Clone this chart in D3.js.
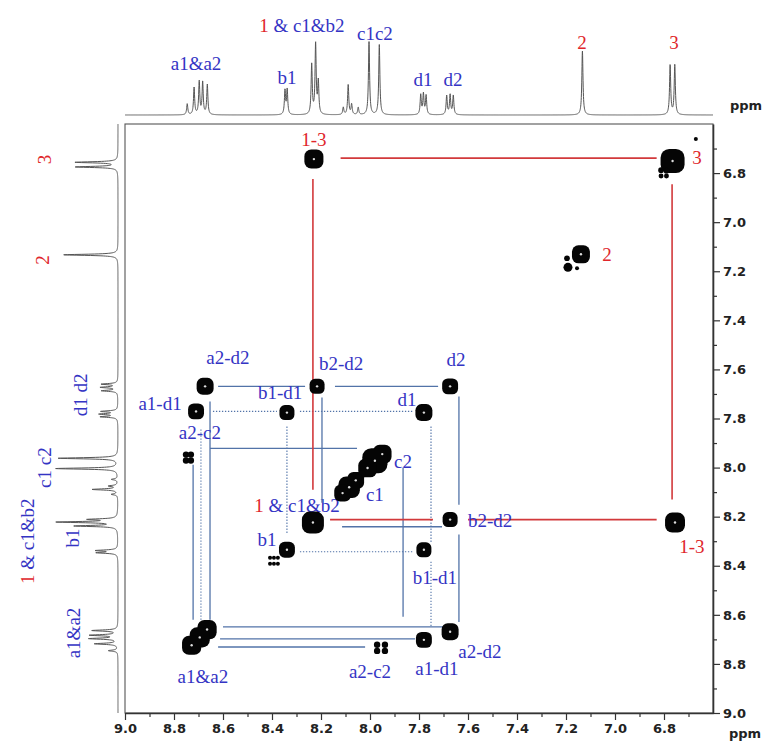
<!DOCTYPE html>
<html>
<head>
<meta charset="utf-8">
<script src="https://cdn.jsdelivr.net/npm/d3@7"></script>
<style>
  body { margin: 0; background: #fff; }
  svg { display: block; }
</style>
</head>
<body>
<svg id="chart" width="765" height="744"></svg>
<script>
// ---- 1D proton projection: [shift (ppm), relative intensity] ----
const projectionPeaks = [
  [8.746, 15], [8.718, 37], [8.697, 45], [8.683, 44], [8.664, 41],
  [8.347, 33], [8.338, 34],
  [8.238, 68], [8.222, 96], [8.211, 44],
  [8.109, 10], [8.089, 41], [8.075, 14], [8.048, 10],
  [8.004, 100], [7.962, 96],
  [7.793, 27], [7.782, 28], [7.771, 26],
  [7.687, 26], [7.673, 27], [7.660, 26],
  [7.133, 88],
  [6.775, 68], [6.756, 68]
];

// assignment labels over the top projection: [text, ppm, level, group]
const topLabels = [
  ["a1&a2", 8.71, 71, "let"],
  ["b1", 8.339, 52, "let"],
  ["c1c2", 7.98, 112, "let"],
  ["d1", 7.784, 48, "let"],
  ["d2", 7.661, 48, "let"],
  ["2", 7.135, 100, "num"],
  ["3", 6.759, 100, "num"]
];
// assignment labels beside the left projection: [text, ppm, level, group]
const leftLabels = [
  ["3", 6.745, 118, "num"],
  ["2", 7.154, 121, "num"],
  ["d1 d2", 7.704, 61, "let"],
  ["c1 c2", 8.000, 118, "let"],
  ["b1", 8.287, 74, "let"],
  ["a1&a2", 8.674, 71, "let"]
];
// the shared "1 & c1&b2" signal label: parts + group
const sharedLabelParts = [["1", "num"], [" & c1&b2", "let"]];
const sharedTop = [8.278, 123];      // [ppm, level]
const sharedLeft = [8.300, 147];     // [ppm, level]
const sharedInPlot = [8.298, 8.151]; // [F2, F1]

// ---- COSY contour peaks: [name, F2 ppm, F1 ppm, intensity] ----
const crossPeaks = [
  ["1-3", 8.229, 6.743, 63],
  ["3", 6.765, 6.751, 100],
  ["2", 7.139, 7.131, 56],
  ["a2-d2", 8.673, 7.669, 50],
  ["a1-d1", 8.710, 7.771, 44],
  ["b2-d2", 8.216, 7.669, 39],
  ["b1-d1", 8.339, 7.776, 39],
  ["d2", 7.673, 7.669, 44],
  ["d1", 7.780, 7.776, 50],
  ["c2", 7.950, 7.945, 60],
  ["c2", 7.980, 7.972, 110],
  ["c2", 8.010, 8.002, 60],
  ["c1", 8.058, 8.052, 48],
  ["c1", 8.085, 8.080, 80],
  ["c1", 8.112, 8.104, 48],
  ["1 & c1&b2", 8.233, 8.224, 84],
  ["b2-d2", 7.673, 8.212, 39],
  ["b1", 8.339, 8.335, 44],
  ["b1-d1", 7.780, 8.335, 39],
  ["a1&a2", 8.665, 8.660, 64],
  ["a1&a2", 8.695, 8.692, 70],
  ["a1&a2", 8.728, 8.724, 64],
  ["a2-d2", 7.673, 8.669, 50],
  ["a1-d1", 7.780, 8.702, 44],
  ["1-3", 6.755, 8.224, 69]
];
// weak contour spots: [F2 ppm, F1 ppm, intensity]
const weakPeaks = [
  [7.196, 7.147, 4], [7.192, 7.184, 10], [7.155, 7.188, 2],
  [6.670, 6.661, 2],
  [6.812, 6.788, 4], [6.790, 6.790, 4], [6.812, 6.812, 3], [6.790, 6.812, 3],
  [8.751, 7.947, 5], [8.731, 7.947, 5], [8.751, 7.971, 5], [8.731, 7.971, 5],
  [7.971, 8.722, 5], [7.939, 8.722, 5], [7.971, 8.747, 5], [7.939, 8.747, 5],
  [8.408, 8.367, 2], [8.392, 8.367, 2], [8.376, 8.367, 2],
  [8.408, 8.392, 2], [8.392, 8.392, 2], [8.376, 8.392, 2],
  [8.033, 8.027, 7], [8.045, 8.040, 5]
];

// ---- correlation lines: [F2 from, F1 from, F2 to, F1 to] ----
const redLinks = [
  [8.120, 6.739, 6.830, 6.739],
  [8.233, 6.824, 8.233, 8.090],
  [8.163, 8.212, 7.743, 8.212],
  [7.600, 8.212, 6.830, 8.212],
  [6.767, 6.845, 6.767, 8.130]
];
const blueLinks = [
  [8.620, 7.669, 8.265, 7.669],
  [8.143, 7.669, 7.722, 7.669],
  [8.653, 7.731, 8.653, 8.620],
  [8.653, 7.922, 8.053, 7.922],
  [8.196, 7.714, 8.196, 8.143],
  [7.637, 7.710, 7.637, 8.151],
  [7.637, 8.273, 7.637, 8.629],
  [8.114, 8.241, 7.706, 8.241],
  [7.865, 8.000, 7.865, 8.608],
  [8.722, 7.988, 8.722, 8.620],
  [8.600, 8.649, 7.702, 8.649],
  [8.612, 8.698, 7.816, 8.698],
  [8.620, 8.731, 8.020, 8.731]
];
const dottedLinks = [
  [8.641, 7.771, 8.380, 7.771],
  [8.286, 7.771, 7.824, 7.771],
  [8.339, 7.833, 8.339, 8.273],
  [7.751, 7.833, 7.751, 8.306],
  [7.751, 8.384, 7.751, 8.653],
  [8.286, 8.343, 7.824, 8.343],
  [8.690, 7.845, 8.690, 8.620]
];

// ---- in-plot assignment labels: [text, F2 ppm, F1 ppm, group] ----
const plotLabels = [
  ["1-3", 8.229, 6.665, "num"],
  ["3", 6.665, 6.735, "num"],
  ["2", 7.033, 7.131, "num"],
  ["1-3", 6.686, 8.322, "num"],
  ["a2-d2", 8.580, 7.551, "let"],
  ["a1-d1", 8.857, 7.739, "let"],
  ["a2-c2", 8.694, 7.857, "let"],
  ["b2-d2", 8.118, 7.576, "let"],
  ["b1-d1", 8.367, 7.694, "let"],
  ["d2", 7.649, 7.559, "let"],
  ["d1", 7.849, 7.722, "let"],
  ["c2", 7.865, 7.976, "let"],
  ["c1", 7.980, 8.110, "let"],
  ["b2-d2", 7.510, 8.216, "let"],
  ["b1", 8.420, 8.294, "let"],
  ["b1-d1", 7.735, 8.449, "let"],
  ["a1&a2", 8.682, 8.853, "let"],
  ["a2-c2", 8.000, 8.829, "let"],
  ["a1-d1", 7.727, 8.820, "let"],
  ["a2-d2", 7.551, 8.751, "let"]
];

// ---- axis ticks ----
const majorTicks = [6.8, 7.0, 7.2, 7.4, 7.6, 7.8, 8.0, 8.2, 8.4, 8.6, 8.8, 9.0];
const minorTicks = [6.7, 6.9, 7.1, 7.3, 7.5, 7.7, 7.9, 8.1, 8.3, 8.5, 8.7, 8.9];
const axisUnit = "ppm";

// ================= drawing =================
const svg = d3.select("#chart");
const x = d3.scaleLinear().domain([9.0, 6.6]).range([125, 713]);
const y = d3.scaleLinear().domain([6.6, 9.0]).range([124, 713]);
const topY = d3.scaleLinear().domain([0, 100]).range([115, 42]);
const leftX = d3.scaleLinear().domain([0, 100]).range([118, 56]);
const peakSide = d3.scaleSqrt().domain([0, 100]).range([0, 24]);
const dotR = d3.scaleSqrt().domain([0, 10]).range([0, 4.5]);
const groupColour = d3.scaleOrdinal().domain(["num", "let"]).range(["#e0262b", "#3434c4"]);

const serif = "'Liberation Serif', 'Times New Roman', serif";
const labelSize = 19;

// projection trace: Lorentzian lines at each listed shift
const HW = 0.0028;
const shifts = d3.range(9.0, 6.6, -0.0006);
const trace = shifts.map(p => [p, d3.sum(projectionPeaks, ([p0, h]) => h * HW * HW / ((p - p0) ** 2 + HW * HW))]);

svg.append("path")
  .datum(trace)
  .attr("fill", "none").attr("stroke", "#555").attr("stroke-width", 1)
  .attr("d", d3.line().x(d => x(d[0])).y(d => topY(d[1])));

svg.append("path")
  .datum(trace)
  .attr("fill", "none").attr("stroke", "#555").attr("stroke-width", 1)
  .attr("d", d3.line().x(d => leftX(d[1])).y(d => y(d[0])));

// top projection labels
svg.append("g").selectAll("text").data(topLabels).join("text")
  .attr("x", d => x(d[1])).attr("y", d => topY(d[2]))
  .attr("text-anchor", "middle").attr("dominant-baseline", "central")
  .attr("font-family", serif).attr("font-size", labelSize)
  .attr("fill", d => groupColour(d[3]))
  .text(d => d[0]);

// left projection labels (rotated)
svg.append("g").selectAll("text").data(leftLabels).join("text")
  .attr("transform", d => `translate(${leftX(d[2])},${y(d[1])}) rotate(-90)`)
  .attr("text-anchor", "middle").attr("dominant-baseline", "central")
  .attr("font-family", serif).attr("font-size", labelSize)
  .attr("fill", d => groupColour(d[3]))
  .text(d => d[0]);

function sharedLabel(sel) {
  sel.attr("text-anchor", "middle").attr("dominant-baseline", "central")
    .attr("font-family", serif).attr("font-size", labelSize);
  sel.selectAll("tspan").data(sharedLabelParts).join("tspan")
    .attr("fill", d => groupColour(d[1]))
    .text(d => d[0]);
}
svg.append("text").attr("x", x(sharedTop[0])).attr("y", topY(sharedTop[1])).call(sharedLabel);
svg.append("text")
  .attr("transform", `translate(${leftX(sharedLeft[1])},${y(sharedLeft[0])}) rotate(-90)`)
  .call(sharedLabel);
svg.append("text").attr("x", x(sharedInPlot[0])).attr("y", y(sharedInPlot[1])).call(sharedLabel);

// unit label beside top projection
svg.append("text")
  .attr("x", 746).attr("y", topY(0) - 10)
  .attr("text-anchor", "middle").attr("dominant-baseline", "central")
  .attr("font-family", "'DejaVu Sans', sans-serif").attr("font-weight", "bold")
  .attr("font-size", 13).attr("fill", "#222")
  .text(axisUnit);

// frame
svg.append("rect")
  .attr("x", x(9.0)).attr("y", y(6.6))
  .attr("width", x(6.6) - x(9.0)).attr("height", y(9.0) - y(6.6))
  .attr("fill", "none").attr("stroke", "#555").attr("stroke-width", 1.1);

// correlation lines
const linkLayer = svg.append("g");
linkLayer.selectAll(".blue").data(blueLinks).join("line")
  .attr("x1", d => x(d[0])).attr("y1", d => y(d[1]))
  .attr("x2", d => x(d[2])).attr("y2", d => y(d[3]))
  .attr("stroke", "#5273a8").attr("stroke-width", 1.3);
linkLayer.selectAll(".dot").data(dottedLinks).join("line")
  .attr("x1", d => x(d[0])).attr("y1", d => y(d[1]))
  .attr("x2", d => x(d[2])).attr("y2", d => y(d[3]))
  .attr("stroke", "#5273a8").attr("stroke-width", 1.1)
  .attr("stroke-dasharray", "1.3,1.7");
linkLayer.selectAll(".red").data(redLinks).join("line")
  .attr("x1", d => x(d[0])).attr("y1", d => y(d[1]))
  .attr("x2", d => x(d[2])).attr("y2", d => y(d[3]))
  .attr("stroke", "#d2393b").attr("stroke-width", 1.6);

// contour peaks
const peakLayer = svg.append("g");
peakLayer.selectAll("rect").data(crossPeaks).join("rect")
  .attr("x", d => x(d[1]) - peakSide(d[3]) / 2)
  .attr("y", d => y(d[2]) - peakSide(d[3]) / 2)
  .attr("width", d => peakSide(d[3]))
  .attr("height", d => peakSide(d[3]))
  .attr("rx", d => peakSide(d[3]) * 0.36)
  .attr("fill", "#050505");
peakLayer.selectAll("circle.w").data(weakPeaks).join("circle")
  .attr("cx", d => x(d[0])).attr("cy", d => y(d[1]))
  .attr("r", d => dotR(d[2]))
  .attr("fill", "#050505");
// small light specks inside the contours
svg.append("g").selectAll("circle").data(crossPeaks).join("circle")
  .attr("cx", d => x(d[1])).attr("cy", d => y(d[2]))
  .attr("r", 1.2).attr("fill", "#ddd");

// in-plot assignment labels
svg.append("g").selectAll("text").data(plotLabels).join("text")
  .attr("x", d => x(d[1])).attr("y", d => y(d[2]))
  .attr("text-anchor", "middle").attr("dominant-baseline", "central")
  .attr("font-family", serif).attr("font-size", labelSize)
  .attr("fill", d => groupColour(d[3]))
  .text(d => d[0]);

// axes
const tickFont = g => g.selectAll("text")
  .attr("font-family", "'DejaVu Sans', sans-serif")
  .attr("font-weight", "bold").attr("font-size", 13).attr("fill", "#222");

const right = svg.append("g").attr("transform", `translate(${x(6.6)},0)`);
right.call(d3.axisRight(y).tickValues(majorTicks).tickSize(7).tickSizeOuter(0).tickPadding(3).tickFormat(d3.format(".1f")))
  .call(tickFont);
right.append("g").call(d3.axisRight(y).tickValues(minorTicks).tickSize(4).tickFormat(""))
  .call(g => g.select(".domain").remove());

const bottom = svg.append("g").attr("transform", `translate(0,${y(9.0)})`);
bottom.call(d3.axisBottom(x).tickValues(majorTicks).tickSize(7).tickSizeOuter(0).tickPadding(4).tickFormat(d3.format(".1f")))
  .call(tickFont);
bottom.append("g").call(d3.axisBottom(x).tickValues(minorTicks).tickSize(4).tickFormat(""))
  .call(g => g.select(".domain").remove());

svg.selectAll(".domain").attr("stroke", "#333").attr("stroke-width", 1.6);
svg.selectAll(".tick line").attr("stroke", "#333").attr("stroke-width", 1.2);

svg.append("text")
  .attr("x", 745).attr("y", y(9.0) + 20)
  .attr("text-anchor", "middle").attr("dominant-baseline", "central")
  .attr("font-family", "'DejaVu Sans', sans-serif").attr("font-weight", "bold")
  .attr("font-size", 13).attr("fill", "#222")
  .text(axisUnit);
</script>
</body>
</html>
